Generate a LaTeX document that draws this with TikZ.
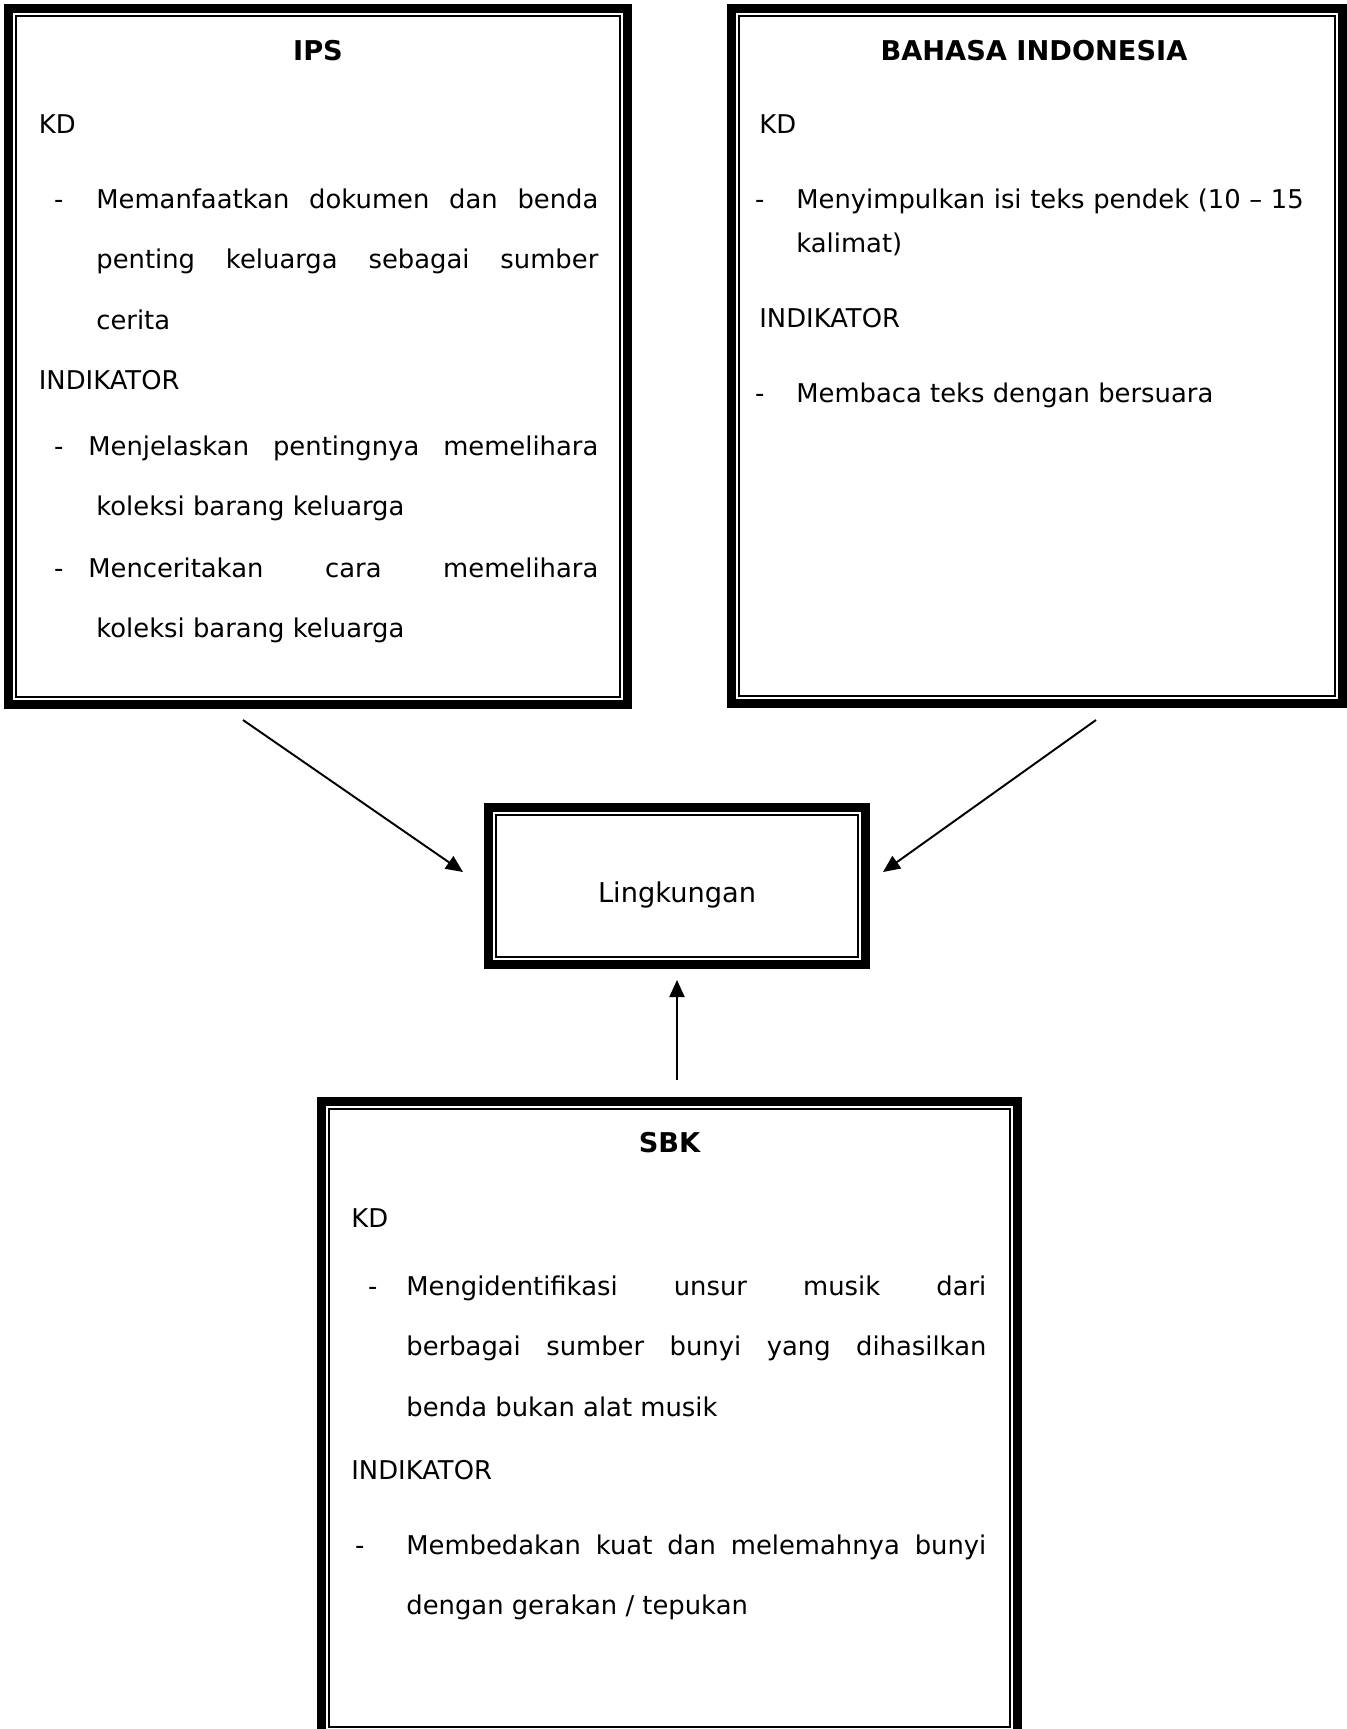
\documentclass[tikz,border=0pt]{standalone}
\usepackage{fontspec}
\setmainfont{DejaVu Sans}
\usepackage{tikz}
\usetikzlibrary{arrows.meta, calc}

\begin{document}
\begin{tikzpicture}[
  boxframe/.style={draw, line width=0.174cm, inner sep=0pt, outer sep=0pt},
  innerframe/.style={line width=0.04cm},
  txt/.style={font=\fontsize{14.7pt}{34.7pt}\selectfont, inner sep=0pt, anchor=base west},
  head/.style={font=\fontsize{15.5pt}{18pt}\selectfont\bfseries, inner sep=0pt, anchor=base},
  link/.style={-{Triangle[length=0.34cm, width=0.3cm]}, line width=1.1pt}
]
  \useasboundingbox (0, 0) rectangle (26.94, -34.58);

  % IPS
  \node[boxframe, minimum width=12.386cm, minimum height=13.926cm] (ips) at (6.36, -7.13) {};
  \draw[innerframe] ([shift={(0.153,-0.153)}]ips.north west) rectangle ([shift={(-0.153,0.153)}]ips.south east);
  \node[head] (ipsTitle) at (6.36, -1.20) {IPS};
  \node[txt] (ipsKD) at (0.77, -2.66) {KD};
  \node[txt, text width=10.04cm, align=justify] (ipsKDa) at (1.92, -4.16) {
    \llap{-\hspace{0.66cm}}Memanfaatkan dokumen dan benda\linebreak
    penting keluarga sebagai sumber\linebreak
    cerita
  };
  \node[txt] (ipsInd) at (0.77, -7.78) {INDIKATOR};
  \node[txt, text width=10.2cm, align=justify] (ipsIndA) at (1.76, -9.10) {
    \llap{-\hspace{0.5cm}}Menjelaskan pentingnya memelihara\linebreak
    \hspace*{0.16cm}koleksi barang keluarga
  };
  \node[txt, text width=10.2cm, align=justify] (ipsIndB) at (1.76, -11.54) {
    \llap{-\hspace{0.5cm}}Menceritakan cara memelihara\linebreak
    \hspace*{0.16cm}koleksi barang keluarga
  };

  % Bahasa Indonesia
  \node[boxframe, minimum width=12.226cm, minimum height=13.906cm] (bind) at (20.74, -7.12) {};
  \draw[innerframe] ([shift={(0.153,-0.153)}]bind.north west) rectangle ([shift={(-0.153,0.153)}]bind.south east);
  \node[head] (bindTitle) at (20.68, -1.20) {BAHASA INDONESIA};
  \node[txt] (bindKD) at (15.18, -2.66) {KD};
  \node[txt, text width=10.6cm, align=left, font=\fontsize{14.7pt}{25.6pt}\selectfont] (bindKDa) at (15.92, -4.16) {
    \llap{-\hspace{0.64cm}}Menyimpulkan isi teks pendek (10 – 15\\
    kalimat)
  };
  \node[txt] (bindInd) at (15.18, -6.54) {INDIKATOR};
  \node[txt] (bindIndA) at (15.92, -8.04) {\llap{-\hspace{0.64cm}}Membaca teks dengan bersuara};

  % Tema
  \node[boxframe, minimum width=7.546cm, minimum height=3.146cm, text height=0.64cm, text depth=0pt,
    font=\fontsize{15.5pt}{18pt}\selectfont] (ling) at (13.54, -17.72) {Lingkungan};
  \draw[innerframe] ([shift={(0.153,-0.153)}]ling.north west) rectangle ([shift={(-0.153,0.153)}]ling.south east);

  % SBK
  \node[boxframe, minimum width=13.926cm, minimum height=12.666cm] (sbk) at (13.39, -28.36) {};
  \draw[innerframe] ([shift={(0.153,-0.153)}]sbk.north west) rectangle ([shift={(-0.153,0.153)}]sbk.south east);
  \node[head] (sbkTitle) at (13.39, -23.04) {SBK};
  \node[txt] (sbkKD) at (7.02, -24.54) {KD};
  \node[txt, text width=11.6cm, align=justify] (sbkKDa) at (8.12, -25.90) {
    \llap{-\hspace{0.58cm}}Mengidentifikasi unsur musik dari\linebreak
    berbagai sumber bunyi yang dihasilkan\linebreak
    benda bukan alat musik
  };
  \node[txt] (sbkInd) at (7.02, -29.58) {INDIKATOR};
  \node[txt, text width=11.6cm, align=justify] (sbkIndA) at (8.12, -31.08) {
    \llap{-\hspace{0.84cm}}Membedakan kuat dan melemahnya bunyi\linebreak
    dengan gerakan / tepukan
  };

  % Arrows to the theme
  \draw[link] ([shift={(-1.50,-0.307)}]ips.south) -- ([shift={(-0.507,0.28)}]ling.west);
  \draw[link] ([shift={(1.18,-0.327)}]bind.south) -- ([shift={(0.347,0.28)}]ling.east);
  \draw[link] ($(sbk.north -| ling.south)+(0,0.427)$) -- ([yshift=-0.307cm]ling.south);
\end{tikzpicture}
\end{document}
